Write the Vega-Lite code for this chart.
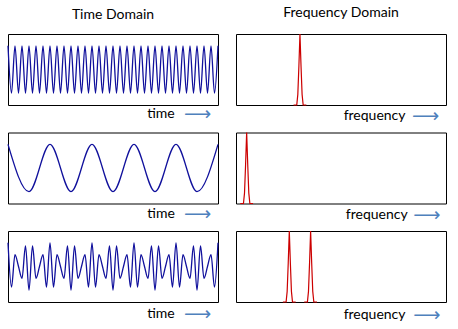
{
  "$schema": "https://vega.github.io/schema/vega-lite/v6.json",
  "background": "white",
  "padding": {"left": 4, "top": 5, "right": 5, "bottom": 5},
  "config": {
    "view": {"stroke": "#000000", "strokeWidth": 1},
    "font": "Lato",
    "title": {"font": "Lato", "fontSize": 14, "fontWeight": "normal", "color": "#000000", "offset": 12}
  },
  "datasets": {
    "wave30": [
      {"k":0,"v":1},{"k":1,"v":-1},{"k":2,"v":1},{"k":3,"v":-1},{"k":4,"v":1},{"k":5,"v":-1},{"k":6,"v":1},{"k":7,"v":-1},{"k":8,"v":1},{"k":9,"v":-1},
      {"k":10,"v":1},{"k":11,"v":-1},{"k":12,"v":1},{"k":13,"v":-1},{"k":14,"v":1},{"k":15,"v":-1},{"k":16,"v":1},{"k":17,"v":-1},{"k":18,"v":1},{"k":19,"v":-1},
      {"k":20,"v":1},{"k":21,"v":-1},{"k":22,"v":1},{"k":23,"v":-1},{"k":24,"v":1},{"k":25,"v":-1},{"k":26,"v":1},{"k":27,"v":-1},{"k":28,"v":1},{"k":29,"v":-1},
      {"k":30,"v":1},{"k":31,"v":-1},{"k":32,"v":1},{"k":33,"v":-1},{"k":34,"v":1},{"k":35,"v":-1},{"k":36,"v":1},{"k":37,"v":-1},{"k":38,"v":1},{"k":39,"v":-1},
      {"k":40,"v":1},{"k":41,"v":-1},{"k":42,"v":1},{"k":43,"v":-1},{"k":44,"v":1},{"k":45,"v":-1},{"k":46,"v":1},{"k":47,"v":-1},{"k":48,"v":1},{"k":49,"v":-1},
      {"k":50,"v":1},{"k":51,"v":-1},{"k":52,"v":1},{"k":53,"v":-1},{"k":54,"v":1},{"k":55,"v":-1},{"k":56,"v":1},{"k":57,"v":-1},{"k":58,"v":1},{"k":59,"v":-1},
      {"k":60,"v":1}
    ],
    "wave5": [
      {"k":0,"v":1},{"k":1,"v":-1},{"k":2,"v":1},{"k":3,"v":-1},{"k":4,"v":1},{"k":5,"v":-1},{"k":6,"v":1},{"k":7,"v":-1},{"k":8,"v":1},{"k":9,"v":-1},{"k":10,"v":1}
    ],
    "beat": [
      {"k":0,"v":1},{"k":1,"v":-0.87},{"k":2,"v":0.5},{"k":3,"v":0},{"k":4,"v":-0.5},{"k":5,"v":0.87},{"k":6,"v":-1},{"k":7,"v":0.87},{"k":8,"v":-0.5},{"k":9,"v":0},{"k":10,"v":0.5},{"k":11,"v":-0.87},
      {"k":12,"v":1},{"k":13,"v":-0.87},{"k":14,"v":0.5},{"k":15,"v":0},{"k":16,"v":-0.5},{"k":17,"v":0.87},{"k":18,"v":-1},{"k":19,"v":0.87},{"k":20,"v":-0.5},{"k":21,"v":0},{"k":22,"v":0.5},{"k":23,"v":-0.87},
      {"k":24,"v":1},{"k":25,"v":-0.87},{"k":26,"v":0.5},{"k":27,"v":0},{"k":28,"v":-0.5},{"k":29,"v":0.87},{"k":30,"v":-1},{"k":31,"v":0.87},{"k":32,"v":-0.5},{"k":33,"v":0},{"k":34,"v":0.5},{"k":35,"v":-0.87},
      {"k":36,"v":1},{"k":37,"v":-0.87},{"k":38,"v":0.5},{"k":39,"v":0},{"k":40,"v":-0.5},{"k":41,"v":0.87},{"k":42,"v":-1},{"k":43,"v":0.87},{"k":44,"v":-0.5},{"k":45,"v":0},{"k":46,"v":0.5},{"k":47,"v":-0.87},
      {"k":48,"v":1},{"k":49,"v":-0.87},{"k":50,"v":0.5},{"k":51,"v":0},{"k":52,"v":-0.5},{"k":53,"v":0.87},{"k":54,"v":-1},{"k":55,"v":0.87},{"k":56,"v":-0.5},{"k":57,"v":0},{"k":58,"v":0.5},{"k":59,"v":-0.87},
      {"k":60,"v":1}
    ],
    "spike30": [
      {"f":27,"a":0,"s":"a"},{"f":28.5,"a":0,"s":"a"},{"f":29,"a":0.15,"s":"a"},{"f":29.5,"a":0.55,"s":"a"},{"f":30,"a":1,"s":"a"},{"f":30.5,"a":0.55,"s":"a"},{"f":31,"a":0.15,"s":"a"},{"f":31.5,"a":0,"s":"a"},{"f":33,"a":0,"s":"a"}
    ],
    "spike5": [
      {"f":2,"a":0,"s":"a"},{"f":3.5,"a":0,"s":"a"},{"f":4,"a":0.15,"s":"a"},{"f":4.5,"a":0.55,"s":"a"},{"f":5,"a":1,"s":"a"},{"f":5.5,"a":0.55,"s":"a"},{"f":6,"a":0.15,"s":"a"},{"f":6.5,"a":0,"s":"a"},{"f":8,"a":0,"s":"a"}
    ],
    "spike2535": [
      {"f":22,"a":0,"s":"a"},{"f":23.5,"a":0,"s":"a"},{"f":24,"a":0.15,"s":"a"},{"f":24.5,"a":0.55,"s":"a"},{"f":25,"a":1,"s":"a"},{"f":25.5,"a":0.55,"s":"a"},{"f":26,"a":0.15,"s":"a"},{"f":26.5,"a":0,"s":"a"},{"f":28,"a":0,"s":"a"},
      {"f":32,"a":0,"s":"b"},{"f":33.5,"a":0,"s":"b"},{"f":34,"a":0.15,"s":"b"},{"f":34.5,"a":0.55,"s":"b"},{"f":35,"a":1,"s":"b"},{"f":35.5,"a":0.55,"s":"b"},{"f":36,"a":0.15,"s":"b"},{"f":36.5,"a":0,"s":"b"},{"f":38,"a":0,"s":"b"}
    ]
  },
  "columns": 2,
  "spacing": {"row": 27.5, "column": 18},
  "bounds": "flush",
  "concat": [
    {
      "width": 210, "height": 71,
      "title": "Time Domain",
      "layer": [
        {"data": {"name": "wave30"},
         "mark": {"type": "line", "interpolate": "monotone", "color": "#10109c", "strokeWidth": 1.3},
         "encoding": {
           "x": {"field": "k", "type": "quantitative", "scale": {"domain": [0, 60], "nice": false, "zero": false}, "axis": null},
           "y": {"field": "v", "type": "quantitative", "scale": {"domain": [-1.5, 1.5], "nice": false}, "axis": null}}},
        {"data": {"values": [{}]},
         "mark": {"type": "text", "text": "time", "fontSize": 14, "font": "Lato", "baseline": "middle", "align": "center", "color": "#000000"},
         "encoding": {"x": {"datum": 43.7, "type": "quantitative"}, "y": {"datum": -1.88, "type": "quantitative"}}},
        {"data": {"values": [{}]},
         "mark": {"type": "text", "text": "⟶", "fontSize": 19, "font": "DejaVu Sans", "baseline": "middle", "align": "center", "color": "#4f81bd"},
         "encoding": {"x": {"datum": 54.2, "type": "quantitative"}, "y": {"datum": -1.88, "type": "quantitative"}}}
      ]
    },
    {
      "width": 210, "height": 71,
      "title": "Frequency Domain",
      "layer": [
        {"data": {"name": "spike30"},
         "mark": {"type": "line", "color": "#cc0000", "strokeWidth": 1.2},
         "encoding": {
           "x": {"field": "f", "type": "quantitative", "scale": {"domain": [0, 98.5], "nice": false, "zero": false}, "axis": null},
           "y": {"field": "a", "type": "quantitative", "scale": {"domain": [0, 1], "nice": false}, "axis": null},
           "detail": {"field": "s"}}},
        {"data": {"values": [{}]},
         "mark": {"type": "text", "text": "frequency", "fontSize": 14, "font": "Lato", "baseline": "middle", "align": "center", "color": "#000000"},
         "encoding": {"x": {"datum": 65, "type": "quantitative"}, "y": {"datum": -0.16, "type": "quantitative"}}},
        {"data": {"values": [{}]},
         "mark": {"type": "text", "text": "⟶", "fontSize": 19, "font": "DejaVu Sans", "baseline": "middle", "align": "center", "color": "#4f81bd"},
         "encoding": {"x": {"datum": 89, "type": "quantitative"}, "y": {"datum": -0.16, "type": "quantitative"}}}
      ]
    },
    {
      "width": 210, "height": 71,
      "layer": [
        {"data": {"name": "wave5"},
         "mark": {"type": "line", "interpolate": "monotone", "color": "#10109c", "strokeWidth": 1.3},
         "encoding": {
           "x": {"field": "k", "type": "quantitative", "scale": {"domain": [0, 10], "nice": false, "zero": false}, "axis": null},
           "y": {"field": "v", "type": "quantitative", "scale": {"domain": [-1.5, 1.5], "nice": false}, "axis": null}}},
        {"data": {"values": [{}]},
         "mark": {"type": "text", "text": "time", "fontSize": 14, "font": "Lato", "baseline": "middle", "align": "center", "color": "#000000"},
         "encoding": {"x": {"datum": 7.29, "type": "quantitative"}, "y": {"datum": -1.95, "type": "quantitative"}}},
        {"data": {"values": [{}]},
         "mark": {"type": "text", "text": "⟶", "fontSize": 19, "font": "DejaVu Sans", "baseline": "middle", "align": "center", "color": "#4f81bd"},
         "encoding": {"x": {"datum": 9.03, "type": "quantitative"}, "y": {"datum": -1.95, "type": "quantitative"}}}
      ]
    },
    {
      "width": 210, "height": 71,
      "layer": [
        {"data": {"name": "spike5"},
         "mark": {"type": "line", "color": "#cc0000", "strokeWidth": 1.2},
         "encoding": {
           "x": {"field": "f", "type": "quantitative", "scale": {"domain": [0, 98.5], "nice": false, "zero": false}, "axis": null},
           "y": {"field": "a", "type": "quantitative", "scale": {"domain": [0, 1], "nice": false}, "axis": null},
           "detail": {"field": "s"}}},
        {"data": {"values": [{}]},
         "mark": {"type": "text", "text": "frequency", "fontSize": 14, "font": "Lato", "baseline": "middle", "align": "center", "color": "#000000"},
         "encoding": {"x": {"datum": 66, "type": "quantitative"}, "y": {"datum": -0.16, "type": "quantitative"}}},
        {"data": {"values": [{}]},
         "mark": {"type": "text", "text": "⟶", "fontSize": 19, "font": "DejaVu Sans", "baseline": "middle", "align": "center", "color": "#4f81bd"},
         "encoding": {"x": {"datum": 89.5, "type": "quantitative"}, "y": {"datum": -0.16, "type": "quantitative"}}}
      ]
    },
    {
      "width": 210, "height": 71,
      "layer": [
        {"data": {"name": "beat"},
         "mark": {"type": "line", "interpolate": "monotone", "color": "#10109c", "strokeWidth": 1.3},
         "encoding": {
           "x": {"field": "k", "type": "quantitative", "scale": {"domain": [0, 60], "nice": false, "zero": false}, "axis": null},
           "y": {"field": "v", "type": "quantitative", "scale": {"domain": [-1.5, 1.5], "nice": false}, "axis": null}}},
        {"data": {"values": [{}]},
         "mark": {"type": "text", "text": "time", "fontSize": 14, "font": "Lato", "baseline": "middle", "align": "center", "color": "#000000"},
         "encoding": {"x": {"datum": 43.7, "type": "quantitative"}, "y": {"datum": -2.0, "type": "quantitative"}}},
        {"data": {"values": [{}]},
         "mark": {"type": "text", "text": "⟶", "fontSize": 19, "font": "DejaVu Sans", "baseline": "middle", "align": "center", "color": "#4f81bd"},
         "encoding": {"x": {"datum": 54.2, "type": "quantitative"}, "y": {"datum": -2.0, "type": "quantitative"}}}
      ]
    },
    {
      "width": 210, "height": 71,
      "layer": [
        {"data": {"name": "spike2535"},
         "mark": {"type": "line", "color": "#cc0000", "strokeWidth": 1.2},
         "encoding": {
           "x": {"field": "f", "type": "quantitative", "scale": {"domain": [0, 98.5], "nice": false, "zero": false}, "axis": null},
           "y": {"field": "a", "type": "quantitative", "scale": {"domain": [0, 1], "nice": false}, "axis": null},
           "detail": {"field": "s"}}},
        {"data": {"values": [{}]},
         "mark": {"type": "text", "text": "frequency", "fontSize": 14, "font": "Lato", "baseline": "middle", "align": "center", "color": "#000000"},
         "encoding": {"x": {"datum": 65, "type": "quantitative"}, "y": {"datum": -0.18, "type": "quantitative"}}},
        {"data": {"values": [{}]},
         "mark": {"type": "text", "text": "⟶", "fontSize": 19, "font": "DejaVu Sans", "baseline": "middle", "align": "center", "color": "#4f81bd"},
         "encoding": {"x": {"datum": 89.5, "type": "quantitative"}, "y": {"datum": -0.18, "type": "quantitative"}}}
      ]
    }
  ]
}
